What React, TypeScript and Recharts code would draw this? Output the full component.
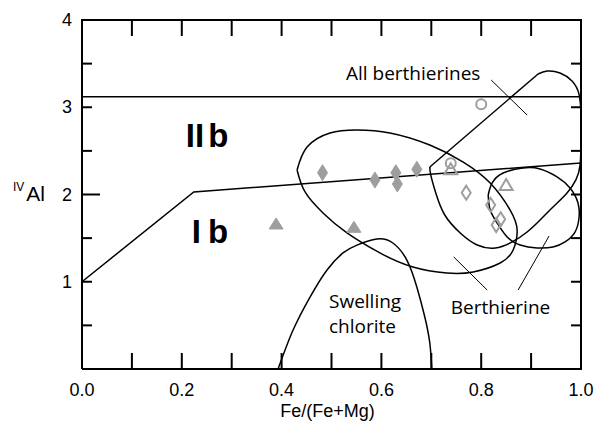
// Chlorite classification: tetrahedral Al against Fe/(Fe+Mg)
import { Scatter, ScatterChart, XAxis, YAxis } from 'recharts'

const PLOT = { left: 82, right: 581, top: 20, bottom: 369 }
const INK = '#000'
const GREY = '#9e9e9e'
const TICK_FONT = '"Liberation Sans", Arial, sans-serif'
const NOTE_FONT = '"Open Sans", sans-serif'

// axis ticks
const xTicks = [0, 0.1, 0.2, 0.3, 0.4, 0.5, 0.6, 0.7, 0.8, 0.9, 1]
const yTicks = [0, 0.5, 1, 1.5, 2, 2.5, 3, 3.5, 4]

// samples
const filledDiamonds = [
  { x: 0.482, y: 2.25 },
  { x: 0.587, y: 2.166 },
  { x: 0.629, y: 2.25 },
  { x: 0.632, y: 2.12 },
  { x: 0.671, y: 2.289 },
]
const openDiamonds = [
  { x: 0.77, y: 2.021 },
  { x: 0.819, y: 1.88 },
  { x: 0.839, y: 1.716 },
  { x: 0.83, y: 1.65 },
]
const filledTriangles = [
  { x: 0.389, y: 1.662 },
  { x: 0.545, y: 1.624 },
]
const openTriangles = [
  { x: 0.739, y: 2.289 },
  { x: 0.85, y: 2.109 },
]
const openCircles = [
  { x: 0.739, y: 2.358 },
  { x: 0.8, y: 3.034 },
]

// field boundaries
const frame = [
  { x: 0, y: 0 },
  { x: 1, y: 0 },
  { x: 1, y: 4 },
  { x: 0, y: 4 },
  { x: 0, y: 0 },
]
const upperLimit = [
  { x: 0, y: 3.12 },
  { x: 1, y: 3.12 },
]
const ibIIbBoundary = [
  { x: 0, y: 1.0 },
  { x: 0.224, y: 2.03 },
  { x: 1, y: 2.36 },
]
const chloriteEllipse = [
  { x: 0.431, y: 2.281 },
  { x: 0.451, y: 2.544 },
  { x: 0.497, y: 2.705 },
  { x: 0.551, y: 2.739 },
  { x: 0.617, y: 2.705 },
  { x: 0.697, y: 2.567 },
  { x: 0.764, y: 2.372 },
  { x: 0.818, y: 2.132 },
  { x: 0.858, y: 1.822 },
  { x: 0.872, y: 1.593 },
  { x: 0.864, y: 1.364 },
  { x: 0.838, y: 1.215 },
  { x: 0.784, y: 1.112 },
  { x: 0.731, y: 1.1 },
  { x: 0.663, y: 1.169 },
  { x: 0.597, y: 1.33 },
  { x: 0.531, y: 1.559 },
  { x: 0.483, y: 1.788 },
  { x: 0.447, y: 2.029 },
  { x: 0.431, y: 2.281 },
]
const allBerthierinesEdge = [
  { x: 0.697, y: 2.315 },
  { x: 0.914, y: 3.381 },
]
// the outer arc runs along the right border, where the frame covers it
const allBerthierinesCurve = [
  { x: 0.914, y: 3.381 },
  { x: 0.932, y: 3.415 },
  { x: 0.958, y: 3.393 },
  { x: 0.982, y: 3.301 },
  { x: 0.996, y: 3.15 },
  { x: 1, y: 2.9 },
  { x: 1, y: 2.6 },
  { x: 0.998, y: 2.33 },
  { x: 0.99, y: 2.17 },
  { x: 0.972, y: 2.017 },
  { x: 0.944, y: 1.857 },
  { x: 0.918, y: 1.708 },
  { x: 0.892, y: 1.57 },
  { x: 0.862, y: 1.456 },
  { x: 0.828, y: 1.387 },
  { x: 0.792, y: 1.421 },
  { x: 0.758, y: 1.559 },
  { x: 0.727, y: 1.765 },
  { x: 0.709, y: 2.017 },
  { x: 0.699, y: 2.223 },
  { x: 0.697, y: 2.315 },
]
const berthierineEllipse = [
  { x: 0.814, y: 1.994 },
  { x: 0.822, y: 2.132 },
  { x: 0.844, y: 2.246 },
  { x: 0.884, y: 2.304 },
  { x: 0.918, y: 2.292 },
  { x: 0.952, y: 2.201 },
  { x: 0.978, y: 2.074 },
  { x: 0.994, y: 1.903 },
  { x: 0.996, y: 1.731 },
  { x: 0.988, y: 1.57 },
  { x: 0.968, y: 1.456 },
  { x: 0.944, y: 1.398 },
  { x: 0.912, y: 1.387 },
  { x: 0.878, y: 1.421 },
  { x: 0.852, y: 1.513 },
  { x: 0.832, y: 1.673 },
  { x: 0.818, y: 1.822 },
  { x: 0.814, y: 1.994 },
]
const swellingChlorite = [
  { x: 0.393, y: 0 },
  { x: 0.423, y: 0.447 },
  { x: 0.457, y: 0.825 },
  { x: 0.491, y: 1.135 },
  { x: 0.523, y: 1.33 },
  { x: 0.551, y: 1.42 },
  { x: 0.591, y: 1.49 },
  { x: 0.623, y: 1.444 },
  { x: 0.651, y: 1.249 },
  { x: 0.671, y: 0.94 },
  { x: 0.687, y: 0.596 },
  { x: 0.697, y: 0.298 },
  { x: 0.701, y: 0 },
]
const leaders = [
  [{ x: 0.82, y: 3.312 }, { x: 0.892, y: 2.911 }],
  [{ x: 0.745, y: 1.284 }, { x: 0.812, y: 0.905 }],
  [{ x: 0.936, y: 1.524 }, { x: 0.874, y: 0.905 }],
]

const annotations = [
  { text: 'All berthierines', x: 0.529, y: 3.312 },
  { text: 'Swelling', x: 0.495, y: 0.699 },
  { text: 'chlorite', x: 0.495, y: 0.413 },
  { text: 'Berthierine', x: 0.739, y: 0.63 },
]
const fields = [
  { first: 'II', second: 'b', gap: 4, x: 0.208, y: 2.544 },
  { first: 'I', second: 'b', gap: 7, x: 0.22, y: 1.444 },
]

// bottom axis: labels, title, inward tick marks on bottom and top edges
const XTick = ({ x, payload }: any) => {
  const v = payload.value
  const edge = v === 0 || v === 1
  const labelled = Math.round(v * 10) % 2 === 0
  return (
    <g>
      {!edge && <line x1={x} x2={x} y1={PLOT.bottom} y2={PLOT.bottom - 16} stroke={INK} strokeWidth={2} />}
      {!edge && <line x1={x} x2={x} y1={PLOT.top} y2={PLOT.top + 16} stroke={INK} strokeWidth={2} />}
      {labelled && (
        <text x={x} y={PLOT.bottom + 27} textAnchor="middle" fontSize={18} fontFamily={TICK_FONT} fill="#000">
          {v.toFixed(1)}
        </text>
      )}
      {v === 0.5 && (
        <text x={x - 4} y={PLOT.bottom + 48} textAnchor="middle" fontSize={18} fontFamily={TICK_FONT} fill="#000">
          Fe/(Fe+Mg)
        </text>
      )}
    </g>
  )
}

// left axis: labels, title, inward tick marks on left and right edges
const YTick = ({ y, payload }: any) => {
  const v = payload.value
  const edge = v === 0 || v === 4
  const len = v === 2 ? 18 : 10
  return (
    <g>
      {!edge && <line x1={PLOT.left} x2={PLOT.left + len} y1={y} y2={y} stroke={INK} strokeWidth={2} />}
      {!edge && <line x1={PLOT.right} x2={PLOT.right - 10} y1={y} y2={y} stroke={INK} strokeWidth={2} />}
      {Number.isInteger(v) && v > 0 && (
        <text x={PLOT.left - 10} y={y + 6} textAnchor="end" fontSize={18} fontFamily={TICK_FONT} fill="#000">
          {v}
        </text>
      )}
      {v === 2 && (
        <text x={13} y={y + 6} fontFamily={TICK_FONT} fill="#000">
          <tspan fontSize={12} dy={-10}>IV</tspan>
          <tspan fontSize={21} dy={10} dx={2}>Al</tspan>
        </text>
      )}
    </g>
  )
}

const noDot = () => <g />
const curve = { stroke: '#000', strokeWidth: 1.5 }

const FilledDiamond = ({ cx, cy }: any) => (
  <polygon points={`${cx},${cy - 8} ${cx + 5},${cy} ${cx},${cy + 8} ${cx - 5},${cy}`} fill={GREY} stroke={GREY} />
)
const OpenDiamond = ({ cx, cy }: any) => (
  <polygon points={`${cx},${cy - 7} ${cx + 4.5},${cy} ${cx},${cy + 7} ${cx - 4.5},${cy}`} fill="none" stroke={GREY} strokeWidth={2} />
)
const FilledTriangle = ({ cx, cy }: any) => (
  <polygon points={`${cx},${cy - 6} ${cx + 7},${cy + 5} ${cx - 7},${cy + 5}`} fill={GREY} stroke={GREY} />
)
const OpenTriangle = ({ cx, cy }: any) => (
  <polygon points={`${cx},${cy - 6} ${cx + 6.5},${cy + 5} ${cx - 6.5},${cy + 5}`} fill="none" stroke={GREY} strokeWidth={2} />
)
const OpenCircle = ({ cx, cy }: any) => <circle cx={cx} cy={cy} r={5} fill="none" stroke={GREY} strokeWidth={2} />

const NoteText = ({ cx, cy, payload }: any) => (
  <text x={cx} y={cy} fontSize={19} fontFamily={NOTE_FONT} fill="#000">
    {payload.text}
  </text>
)
const FieldText = ({ cx, cy, payload }: any) => (
  <text x={cx} y={cy} fontSize={33} fontWeight="bold" fontFamily={TICK_FONT} fill="#000">
    {payload.first}
    <tspan dx={payload.gap}>{payload.second}</tspan>
  </text>
)

export default function App() {
  return (
    <div style={{ position: 'absolute', left: 0, top: 0 }}>
      <ScatterChart width={594} height={424} margin={{ top: 20, right: 13, left: 22, bottom: 0 }}>
        <XAxis
          type="number"
          dataKey="x"
          domain={[0, 1]}
          ticks={xTicks}
          interval={0}
          height={55}
          tickLine={false}
          axisLine={{ stroke: INK, strokeWidth: 2 }}
          tick={<XTick />}
        />
        <YAxis
          type="number"
          dataKey="y"
          domain={[0, 4]}
          ticks={yTicks}
          interval={0}
          width={60}
          tickLine={false}
          axisLine={{ stroke: INK, strokeWidth: 2 }}
          tick={<YTick />}
        />

        <Scatter data={frame} line={{ stroke: INK, strokeWidth: 2 }} shape={noDot} isAnimationActive={false} />
        <Scatter data={upperLimit} line={curve} shape={noDot} isAnimationActive={false} />
        <Scatter data={ibIIbBoundary} line={curve} shape={noDot} isAnimationActive={false} />
        <Scatter data={chloriteEllipse} line={curve} lineJointType="natural" shape={noDot} isAnimationActive={false} />
        <Scatter data={allBerthierinesEdge} line={curve} shape={noDot} isAnimationActive={false} />
        <Scatter data={allBerthierinesCurve} line={curve} lineJointType="natural" shape={noDot} isAnimationActive={false} />
        <Scatter data={berthierineEllipse} line={curve} lineJointType="natural" shape={noDot} isAnimationActive={false} />
        <Scatter data={swellingChlorite} line={curve} lineJointType="natural" shape={noDot} isAnimationActive={false} />
        {leaders.map((seg, i) => (
          <Scatter key={i} data={seg} line={{ stroke: '#000', strokeWidth: 1 }} shape={noDot} isAnimationActive={false} />
        ))}

        <Scatter data={filledDiamonds} shape={FilledDiamond} isAnimationActive={false} />
        <Scatter data={openDiamonds} shape={OpenDiamond} isAnimationActive={false} />
        <Scatter data={filledTriangles} shape={FilledTriangle} isAnimationActive={false} />
        <Scatter data={openTriangles} shape={OpenTriangle} isAnimationActive={false} />
        <Scatter data={openCircles} shape={OpenCircle} isAnimationActive={false} />

        <Scatter data={annotations} shape={NoteText} isAnimationActive={false} />
        <Scatter data={fields} shape={FieldText} isAnimationActive={false} />
      </ScatterChart>
    </div>
  )
}
